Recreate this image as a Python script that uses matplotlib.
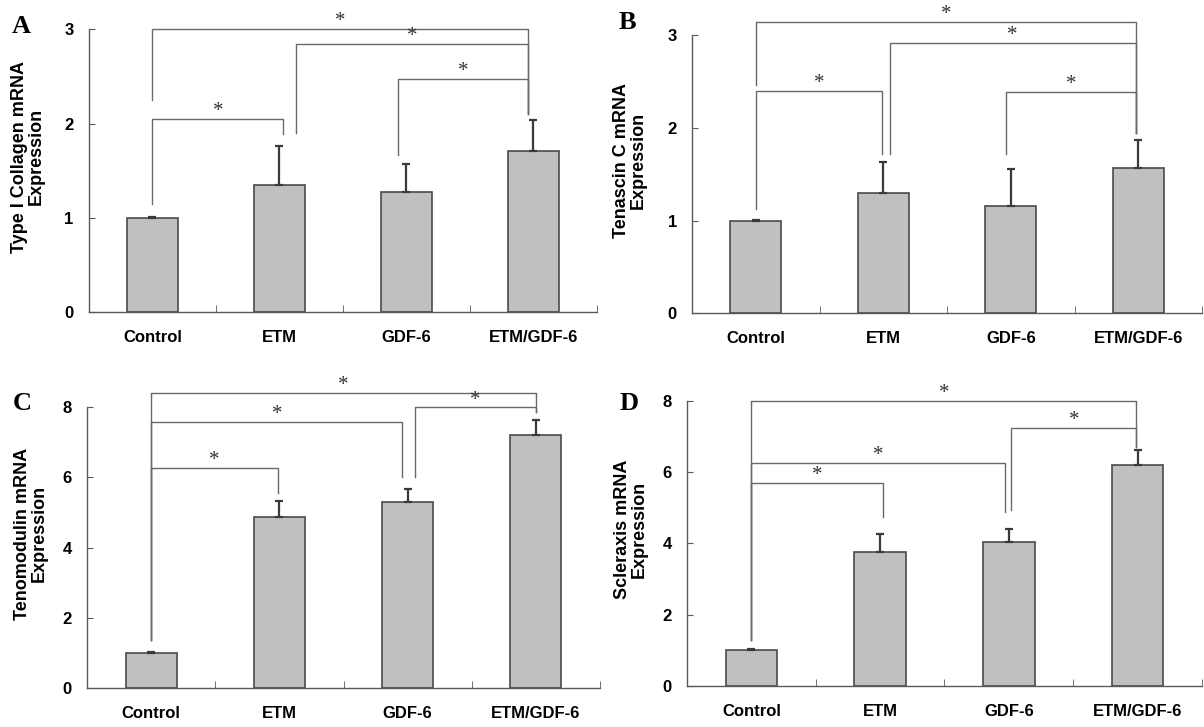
import matplotlib
matplotlib.use("Agg")
import matplotlib.pyplot as plt

# groups on the x axis
groups = ["Control", "ETM", "GDF-6", "ETM/GDF-6"]

# mean expression and upper SD per panel
collagen_mean = [1.00, 1.35, 1.27, 1.71]
collagen_err = [0.01, 0.41, 0.30, 0.33]
tenascin_mean = [1.00, 1.30, 1.16, 1.57]
tenascin_err = [0.01, 0.33, 0.40, 0.30]
tenomodulin_mean = [1.00, 4.88, 5.30, 7.20]
tenomodulin_err = [0.03, 0.45, 0.36, 0.43]
scleraxis_mean = [1.00, 3.76, 4.04, 6.20]
scleraxis_err = [0.03, 0.51, 0.35, 0.41]

# significance brackets: (x left, x right, height, left leg bottom, right leg bottom)
collagen_sig = [(0.00, 1.03, 2.05, 1.15, 1.89),
                (1.13, 2.96, 2.84, 1.90, 2.10),
                (1.93, 2.96, 2.47, 1.67, 2.10),
                (0.00, 2.96, 3.00, 2.25, 2.10)]
tenascin_sig = [(0.00, 0.99, 2.40, 1.13, 1.72),
                (1.05, 2.98, 2.91, 1.72, 1.94),
                (1.96, 2.98, 2.39, 1.72, 1.94),
                (0.00, 2.98, 3.14, 2.46, 1.94)]
tenomodulin_sig = [(0.00, 0.99, 6.25, 1.37, 5.54),
                   (0.00, 1.96, 7.58, 1.37, 6.01),
                   (2.06, 3.00, 7.98, 6.01, 7.86),
                   (0.00, 3.00, 8.38, 1.37, 7.86)]
scleraxis_sig = [(0.00, 1.02, 5.70, 1.29, 4.75),
                 (0.00, 1.97, 6.26, 1.29, 4.89),
                 (2.02, 2.99, 7.23, 4.93, 6.69),
                 (0.00, 2.99, 8.00, 1.29, 6.69)]

panels = [
    ("A", "Type I Collagen mRNA\nExpression", collagen_mean, collagen_err, collagen_sig,
     3, [0, 1, 2, 3], [0.0739, 0.5708, 0.4219, 0.3889], -0.087, (12, 15)),
    ("B", "Tenascin C mRNA\nExpression", tenascin_mean, tenascin_err, tenascin_sig,
     3, [0, 1, 2, 3], [0.5748, 0.5690, 0.4236, 0.3828], -0.088, (619, 11)),
    ("C", "Tenomodulin mRNA\nExpression", tenomodulin_mean, tenomodulin_err, tenomodulin_sig,
     8, [0, 2, 4, 6, 8], [0.0723, 0.0532, 0.4260, 0.3873], -0.076, (13, 392)),
    ("D", "Scleraxis mRNA\nExpression", scleraxis_mean, scleraxis_err, scleraxis_sig,
     8, [0, 2, 4, 6, 8], [0.5706, 0.0564, 0.4277, 0.3924], -0.076, (620, 392)),
]

SANS = ["Liberation Sans", "DejaVu Sans"]
SERIF = ["Liberation Serif", "DejaVu Serif"]
AX_COLOR = "#5a5a5a"

fig = plt.figure(figsize=(12.04, 7.27), dpi=100)

for letter, ylabel, mean, err, sig, ymax, yticks, rect, lab_x, letter_px in panels:
    ax = fig.add_axes(rect)
    x = list(range(len(groups)))

    ax.bar(x, mean, width=0.4, color="#c0c0c0", edgecolor="#4a4a4a", linewidth=1.2, zorder=2)
    ax.errorbar(x, mean, yerr=[[0] * len(err), err], fmt="none", ecolor="#3a3a3a",
                elinewidth=1.6, capsize=3, capthick=1.6, zorder=3)

    # brackets with stars
    for x1, x2, h, b1, b2 in sig:
        ax.plot([x1, x1, x2, x2], [b1, h, h, b2], color="#6a6a6a", lw=1.0,
                clip_on=False, zorder=1)
        ax.annotate("*", xy=((x1 + x2) / 2, h), xytext=(0, -1.5), textcoords="offset points",
                    ha="center", va="bottom", fontsize=15, family=SERIF, color="#333333",
                    annotation_clip=False)

    ax.set_xlim(-0.5, 3.5)
    ax.set_ylim(0, ymax)
    ax.set_yticks(yticks)
    ax.set_xticks(x)
    ax.set_xticklabels(groups)
    ax.set_xticks([0.5, 1.5, 2.5, 3.5], minor=True)

    for side in ("top", "right"):
        ax.spines[side].set_visible(False)
    for side in ("left", "bottom"):
        ax.spines[side].set_color(AX_COLOR)
        ax.spines[side].set_linewidth(1.0)

    ax.tick_params(axis="x", which="major", length=0, pad=13)
    ax.tick_params(axis="x", which="minor", direction="in", length=5, color=AX_COLOR)
    ax.tick_params(axis="y", direction="in", length=4, color=AX_COLOR, pad=11)
    for lab in ax.get_xticklabels() + ax.get_yticklabels():
        lab.set_fontfamily(SANS)
        lab.set_fontweight("bold")
        lab.set_fontsize(12)

    ax.set_ylabel(ylabel, fontsize=13, fontweight="bold", family=SANS, linespacing=1.0)
    ax.yaxis.set_label_coords(lab_x, 0.55)

    fig.text(letter_px[0] / 1204, 1 - letter_px[1] / 727, letter, ha="left", va="top",
             fontsize=19, fontweight="bold", family=SERIF)

fig.savefig("out.png", dpi=100)
